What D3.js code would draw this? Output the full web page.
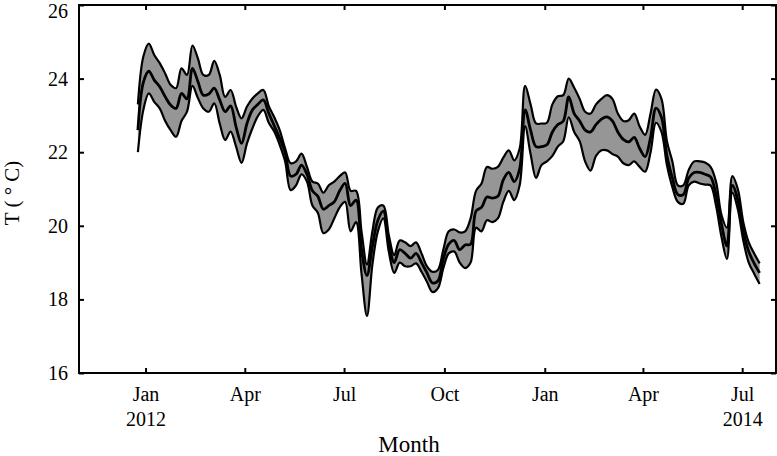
<!DOCTYPE html>
<html>
<head>
<meta charset="utf-8">
<script src="https://cdn.jsdelivr.net/npm/d3@7"></script>
<style>
  body { margin: 0; background: #fff; }
  svg text { font-family: "Liberation Serif", "Times New Roman", serif; fill: #000; }
</style>
</head>
<body>
<svg id="chart" width="777" height="456"></svg>
<script>
// series sampled every 5 days starting 25 Dec 2011
var startDate = new Date(2011, 11, 25);
var stepDays = 5;

var upper = [23.3, 24.6, 24.95, 24.64, 24.42, 24.14, 23.83, 23.74, 24.28, 24.1,
  24.9, 24.55, 24.1, 24.1, 24.48, 24.1, 23.5, 23.69, 23.24, 22.92,
  23.24, 23.46, 23.6, 23.69, 23.25, 22.95, 22.6, 22.1, 21.7, 21.75,
  21.96, 21.6, 21.2, 21.15, 20.9, 21.1, 21.2, 21.35, 21.45, 20.95,
  20.95, 19.85, 18.95, 19.85, 20.5, 20.55, 19.75, 19.2, 19.6, 19.55,
  19.45, 19.55, 19.25, 18.9, 18.75, 18.8, 19.35, 19.85, 19.9, 19.82,
  19.85, 20.2, 20.95, 21.15, 21.6, 21.55, 21.6, 21.85, 22.05, 21.78,
  22.1, 23.8, 23.3, 22.78, 22.78, 22.8, 23.3, 23.52, 23.55, 24.0,
  23.75, 23.45, 23.1, 23.05, 23.3, 23.45, 23.55, 23.45, 23.05, 22.85,
  22.87, 23.05, 22.7, 22.47, 23.05, 23.7, 23.45, 22.3, 21.75, 21.1,
  21.1, 21.52, 21.75, 21.75, 21.72, 21.6, 21.2, 20.3, 19.95, 21.35,
  21.0, 20.1, 19.55, 19.25, 18.98];

var mean = [22.6, 23.9, 24.2, 23.96, 23.78, 23.51, 23.28, 23.19, 23.6, 23.45,
  24.28, 23.92, 23.55, 23.58, 23.74, 23.42, 23.1, 23.26, 22.69, 22.24,
  22.78, 23.15, 23.3, 23.42, 23.06, 22.72, 22.38, 21.98, 21.35, 21.4,
  21.65, 21.4, 20.95, 20.8, 20.45, 20.55, 20.65, 20.95, 21.15, 20.55,
  20.7, 19.35, 18.65, 19.45, 20.15, 20.4, 19.55, 19.0, 19.35, 19.25,
  19.12, 19.25, 19.0, 18.72, 18.45, 18.5, 19.1, 19.5, 19.6, 19.35,
  19.48, 19.5, 20.4, 20.5, 20.78, 20.75, 20.8, 21.25, 21.45, 21.2,
  21.55, 23.15, 22.6, 22.15, 22.15, 22.2, 22.55, 22.75, 22.85, 23.5,
  23.05, 22.85, 22.6, 22.55, 22.75, 22.9, 22.96, 22.85, 22.55, 22.35,
  22.28, 22.4, 22.1, 21.88, 22.4, 23.2, 22.95, 21.9, 21.3, 20.85,
  20.85, 21.3, 21.45, 21.45, 21.4, 21.33, 20.85, 20.05, 19.45, 21.1,
  20.7, 19.85, 19.3, 18.98, 18.72];

var lower = [22.0, 23.15, 23.6, 23.37, 23.19, 22.85, 22.6, 22.42, 22.85, 23.1,
  23.8, 23.47, 23.19, 23.1, 23.33, 22.78, 22.33, 22.56, 22.15, 21.71,
  22.24, 22.65, 22.98, 23.15, 22.8, 22.56, 22.2, 21.75, 20.97, 21.1,
  21.4, 21.2, 20.55, 20.35, 19.8, 19.9, 20.2, 20.5, 20.65, 19.85,
  20.1, 18.7, 17.55, 18.95, 19.85, 20.2, 19.3, 18.72, 19.0, 18.9,
  18.9, 18.98, 18.75, 18.48, 18.2, 18.3, 18.85, 19.25, 19.3, 19.0,
  18.85, 19.0, 19.95, 19.85, 20.15, 20.1, 20.2, 20.65, 20.95, 20.7,
  21.1, 22.7, 21.95, 21.3, 21.65, 21.75, 21.9, 22.15, 22.3, 22.95,
  22.55, 22.3, 21.75, 21.5, 21.9, 22.05, 22.05, 21.95, 21.88, 21.7,
  21.65, 21.75, 21.6, 21.47, 22.0, 22.8, 22.55, 21.65, 21.05, 20.65,
  20.6, 21.1, 21.2, 21.15, 21.12, 21.1, 20.55, 19.7, 19.1, 20.9,
  20.45, 19.6, 19.0, 18.7, 18.42];

var tickDates = [new Date(2012, 0, 1), new Date(2012, 3, 1), new Date(2012, 6, 1),
  new Date(2012, 9, 1), new Date(2013, 0, 1), new Date(2013, 3, 1), new Date(2013, 6, 1)];
var tickLabels = [["Jan", "2012"], ["Apr"], ["Jul"], ["Oct"], ["Jan"], ["Apr"], ["Jul", "2014"]];
var yTicks = [16, 18, 20, 22, 24, 26];

var margin = { left: 79, top: 5, right: 1, bottom: 83 };
var width = 777 - margin.left - margin.right;
var height = 456 - margin.top - margin.bottom;

var svg = d3.select('#chart');
var g = svg.append('g').attr('transform', 'translate(' + margin.left + ',' + margin.top + ')');

var x = d3.scaleTime()
  .domain([new Date(2011, 10, 1), new Date(2013, 7, 1)])
  .range([0, width]);
var y = d3.scaleLinear().domain([16, 26]).range([height, 0]);

var data = upper.map(function (u, i) {
  return { date: d3.timeDay.offset(startDate, i * stepDays), hi: u, mid: mean[i], lo: lower[i] };
});

var curve = d3.curveCatmullRom.alpha(0.5);

g.append('path')
  .datum(data)
  .attr('fill', '#969696')
  .attr('d', d3.area()
    .curve(curve)
    .x(function (d) { return x(d.date); })
    .y0(function (d) { return y(d.lo); })
    .y1(function (d) { return y(d.hi); }));

['hi', 'lo', 'mid'].forEach(function (key) {
  g.append('path')
    .datum(data)
    .attr('fill', 'none')
    .attr('stroke', '#000')
    .attr('stroke-width', key === 'mid' ? 2.8 : 2.2)
    .attr('stroke-linejoin', 'round')
    .attr('d', d3.line()
      .curve(curve)
      .x(function (d) { return x(d.date); })
      .y(function (d) { return y(d[key]); }));
});

// axes, ticks pointing inward
var xAxis = g.append('g')
  .attr('transform', 'translate(0,' + height + ')')
  .call(d3.axisBottom(x).tickValues(tickDates).tickSizeInner(-5).tickSizeOuter(0).tickPadding(14));
xAxis.selectAll('text').each(function (d, i) {
  var t = d3.select(this).text(null).attr('dy', null);
  tickLabels[i].forEach(function (s, j) {
    t.append('tspan').attr('x', 0).attr('dy', j === 0 ? '0.71em' : '1.25em').text(s);
  });
});

g.append('g')
  .call(d3.axisTop(x).tickValues(tickDates).tickSizeInner(-5).tickSizeOuter(0).tickFormat(''));

var yAxis = g.append('g')
  .call(d3.axisLeft(y).tickValues(yTicks).tickSizeInner(-5).tickSizeOuter(0).tickPadding(11));
// top label sits just below the edge so it is not clipped
yAxis.selectAll('text').filter(function (d) { return d === 26; }).attr('dy', '0.62em');

g.append('g')
  .attr('transform', 'translate(' + width + ',0)')
  .call(d3.axisRight(y).tickValues(yTicks).tickSizeInner(-5).tickSizeOuter(0).tickFormat(''));

g.selectAll('.domain').remove();
g.selectAll('.tick line').attr('stroke', '#000').attr('stroke-width', 2);
g.selectAll('.tick text').attr('font-size', 20).attr('font-family', '"Liberation Serif", serif');

g.append('rect')
  .attr('width', width)
  .attr('height', height)
  .attr('fill', 'none')
  .attr('stroke', '#000')
  .attr('stroke-width', 2);

svg.append('text')
  .attr('x', 409)
  .attr('y', 452)
  .attr('text-anchor', 'middle')
  .attr('font-size', 23)
  .text('Month');

svg.append('text')
  .attr('transform', 'translate(19,193) rotate(-90)')
  .attr('text-anchor', 'middle')
  .attr('font-size', 21)
  .text('T ( ° C)');
</script>
</body>
</html>
